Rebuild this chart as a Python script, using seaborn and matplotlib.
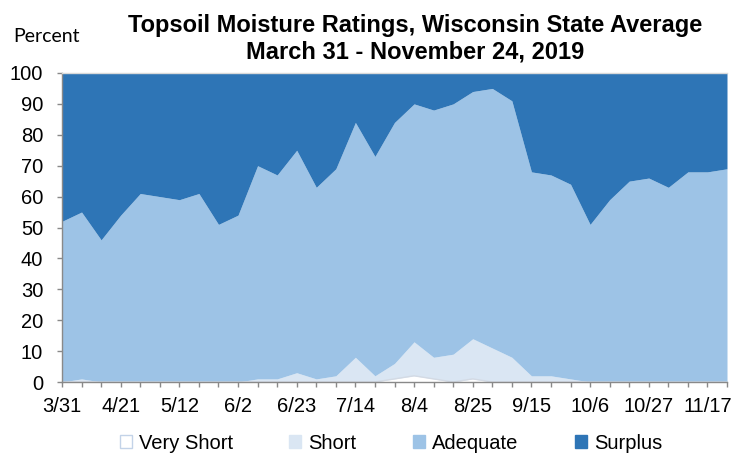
import pandas as pd
import numpy as np
import seaborn as sns
import matplotlib.pyplot as plt
from matplotlib.patches import Patch

# Weekly topsoil moisture ratings (percent), Wisconsin, 3/31 - 11/24 2019
weeks = pd.date_range('2019-03-31', periods=35, freq='7D')
very_short = [0, 0, 0, 0, 0, 0, 0, 0, 0, 0, 0, 0, 0, 0, 0, 0, 0, 1, 2, 1,
              0, 1, 0, 0, 0, 0, 0, 0, 0, 0, 0, 0, 0, 0, 0]
short = [0, 1, 0, 0, 0, 0, 0, 0, 0, 0, 1, 1, 3, 1, 2, 8, 2, 5, 11, 7,
         9, 13, 11, 8, 2, 2, 1, 0, 0, 0, 0, 0, 0, 0, 0]
adequate = [52, 54, 46, 54, 61, 60, 59, 61, 51, 54, 69, 66, 72, 62, 67, 76, 71, 78, 77, 80,
            81, 80, 84, 83, 66, 65, 63, 51, 59, 65, 66, 63, 68, 68, 69]
surplus = [48, 45, 54, 46, 39, 40, 41, 39, 49, 46, 30, 33, 25, 37, 31, 16, 27, 16, 10, 12,
           10, 6, 5, 9, 32, 33, 36, 49, 41, 35, 34, 37, 32, 32, 31]
tick_labels = ['3/31', '4/21', '5/12', '6/2', '6/23', '7/14', '8/4', '8/25',
               '9/15', '10/6', '10/27', '11/17']

series = ['Very Short', 'Short', 'Adequate', 'Surplus']
colors = ['#ffffff', '#dae6f3', '#9dc3e6', '#2e75b6']
edges = ['#c3d3e8', '#dae6f3', '#9dc3e6', '#2e75b6']

df = pd.DataFrame({'x': np.arange(len(weeks)), 'Very Short': very_short,
                   'Short': short, 'Adequate': adequate, 'Surplus': surplus})

sns.set_theme(style='white')
plt.rcParams['font.family'] = ['Liberation Sans', 'DejaVu Sans']
plt.rcParams['text.color'] = 'black'

fig = plt.figure(figsize=(7.49, 4.55), dpi=100)
ax = fig.add_axes([62 / 749, 1 - 382 / 455, (727 - 62) / 749, (382 - 73) / 455])

# stacked areas
bottom = np.zeros(len(df))
for name, c in zip(series, colors):
    top = bottom + df[name].values
    ax.fill_between(df['x'], bottom, top, color=c, lw=0)
    bottom = top
sns.lineplot(x=df['x'], y=df['Very Short'], ax=ax, color='#d3dae4', lw=1)

ax.set_xlim(0, len(df) - 1)
ax.set_ylim(0, 100)
ax.set_xticks(df['x'])
ax.set_xticklabels([tick_labels[i // 3] if i % 3 == 0 else '' for i in df['x']])
ax.set_yticks(range(0, 101, 10))
ax.set_xlabel('')
ax.set_ylabel('')
ax.tick_params(axis='both', bottom=True, left=True, direction='out', length=3.6,
               width=1, color='#898989', labelsize=14.5, labelcolor='black')
ax.tick_params(axis='x', pad=7.5)
ax.tick_params(axis='y', pad=10)

for s in ['left', 'bottom']:
    ax.spines[s].set_color('#898989')
    ax.spines[s].set_linewidth(1)
ax.spines['top'].set_color('#d9d9d9')
ax.spines['top'].set_linewidth(1)
ax.spines['right'].set_visible(False)

fig.text(0.554, 1 - 32 / 455, 'Topsoil Moisture Ratings, Wisconsin State Average',
         ha='center', va='baseline', fontsize=17, fontweight='bold', color='black')
fig.text(0.554, 1 - 58 / 455, 'March 31 - November 24, 2019',
         ha='center', va='baseline', fontsize=17, fontweight='bold', color='black')
fig.text(13 / 749, 1 - 37 / 455, 'Percent', ha='left', va='center',
         fontsize=14, family=['Lato', 'DejaVu Sans'], color='black')

handles = [Patch(facecolor=c, edgecolor=e, lw=1) for c, e in zip(colors, edges)]
leg = fig.legend(handles, series, loc='center', bbox_to_anchor=(0.522, 0.026), ncol=4,
                 frameon=False, fontsize=14.5, handlelength=0.6, handleheight=0.6,
                 handletextpad=0.35, columnspacing=2.8, borderpad=0, borderaxespad=0)
for t in leg.get_texts():
    t.set_color('black')

fig.savefig('out.png', dpi=100)
